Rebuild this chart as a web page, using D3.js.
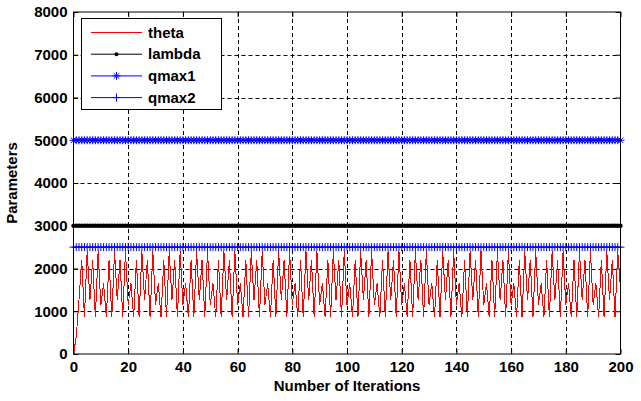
<!DOCTYPE html>
<html><head><meta charset="utf-8">
<script src="https://cdn.jsdelivr.net/npm/d3@7"></script>
<style>body{margin:0;background:#fff}svg{display:block}text{font-family:"Liberation Sans",Arial,sans-serif;font-weight:bold;fill:#000}</style>
</head><body><svg id="c" width="641" height="401"></svg>
<script>
const xTicks = [0,20,40,60,80,100,120,140,160,180,200];
const yTicks = [0,1000,2000,3000,4000,5000,6000,7000,8000];
const seriesNames = ["theta","lambda","qmax1","qmax2"];
const lambdaValue = 3000;
const qmax1Value = 5000;
const qmax2Value = 2500;
const theta = [
0,400,1260,2200,
860,2400,1260,2200,860,2400,1150,1650,860,2200,
860,2400,1260,2200,860,2400,1150,1650,860,2200,
860,2400,1260,2200,860,2400,1150,1650,860,2200,
860,2400,1260,2200,860,2400,1150,1650,860,2200,
860,2400,1260,2200,860,2400,1150,1650,860,2200,
860,2400,1260,2200,860,2400,1150,1650,860,2200,
860,2400,1260,2200,860,2400,1150,1650,860,2200,
860,2400,1260,2200,860,2400,1150,1650,860,2200,
860,2400,1260,2200,860,2400,1150,1650,860,2200,
860,2400,1260,2200,860,2400,1150,1650,860,2200,
860,2400,1260,2200,860,2400,1150,1650,860,2200,
860,2400,1260,2200,860,2400,1150,1650,860,2200,
860,2400,1260,2200,860,2400,1150,1650,860,2200,
860,2400,1260,2200,860,2400,1150,1650,860,2200,
860,2400,1260,2200,860,2400,1150,1650,860,2200,
860,2400,1260,2200,860,2400,1150,1650,860,2200,
860,2400,1260,2200,860,2400,1150,1650,860,2200,
860,2400,1260,2200,860,2400,1150,1650,860,2200,
860,2400,1260,2200,860,2400,1150,1650,860,2200,
860,2400,1260,2200,860,2400,1540
];
const iterations = theta.map((d,i)=>i);
const lambda = iterations.map(()=>lambdaValue);
const qmax1 = iterations.map(()=>qmax1Value);
const qmax2 = iterations.map(()=>qmax2Value);

const L=73.5, R=620.5, T=12, B=354;
const svg = d3.select("#c");
const x = d3.scaleLinear().domain([0,200]).range([L,R]);
const y = d3.scaleLinear().domain([0,8000]).range([B,T]);
const FS = 15;

// grid
const g = svg.append("g");
g.selectAll(".gx").data(xTicks.slice(1,-1)).enter().append("line")
 .attr("x1",d=>Math.round(x(d))+0.5).attr("x2",d=>Math.round(x(d))+0.5).attr("y1",T).attr("y2",B)
 .attr("stroke","#000").attr("stroke-dasharray","4,3");
g.selectAll(".gy").data(yTicks.slice(1,-1)).enter().append("line")
 .attr("y1",d=>Math.round(y(d))+0.5).attr("y2",d=>Math.round(y(d))+0.5).attr("x1",L).attr("x2",R)
 .attr("stroke","#000").attr("stroke-dasharray","4,3");

// axes with inside ticks
const ax = d3.axisBottom(x).tickValues(xTicks).tickSize(-5).tickPadding(7).tickFormat(d3.format("d"));
const ay = d3.axisLeft(y).tickValues(yTicks).tickSize(-5).tickPadding(6).tickFormat(d3.format("d"));
const gx = svg.append("g").attr("transform",`translate(0,${B})`).call(ax);
const gy = svg.append("g").attr("transform",`translate(${L},0)`).call(ay);
const gxt = svg.append("g").attr("transform",`translate(0,${T})`).call(d3.axisTop(x).tickValues(xTicks).tickSize(-5).tickFormat(""));
const gyr = svg.append("g").attr("transform",`translate(${R},0)`).call(d3.axisRight(y).tickValues(yTicks).tickSize(-5).tickFormat(""));
[gx,gy,gxt,gyr].forEach(a=>{a.select(".domain").remove();a.selectAll("line").attr("stroke","#000");a.selectAll("text").style("font-size",FS+"px").style("font-family","Liberation Sans, Arial, sans-serif").style("font-weight","bold").attr("fill","#000");});

const lineGen = d3.line().x((d,i)=>x(iterations[i])).y(d=>y(d));
const plot = svg.append("g");
// theta
plot.append("path").attr("d",lineGen(theta)).attr("fill","none").attr("stroke","#ff0000").attr("stroke-width",1).attr("shape-rendering","crispEdges");
// lambda
plot.append("path").attr("d",lineGen(lambda)).attr("fill","none").attr("stroke","#000").attr("stroke-width",1);
plot.selectAll(".ld").data(lambda).enter().append("circle").attr("cx",(d,i)=>x(iterations[i])).attr("cy",d=>y(d)).attr("r",2.2).attr("fill","#000");
// qmax1
plot.append("path").attr("d",lineGen(qmax1)).attr("fill","none").attr("stroke","#0000ff").attr("stroke-width",1);
const star = (cx,cy,s)=>`M${cx-s},${cy}H${cx+s}M${cx},${cy-s}V${cy+s}M${cx-s*0.7},${cy-s*0.7}L${cx+s*0.7},${cy+s*0.7}M${cx-s*0.7},${cy+s*0.7}L${cx+s*0.7},${cy-s*0.7}`;
const plus = (cx,cy,s)=>`M${cx-s},${cy}H${cx+s}M${cx},${cy-s}V${cy+s}`;
plot.append("path").attr("d",qmax1.map((d,i)=>star(x(iterations[i]),y(d),4)).join("")).attr("stroke","#0000ff").attr("fill","none");
// qmax2
plot.append("path").attr("d",lineGen(qmax2)).attr("fill","none").attr("stroke","#0000ff").attr("stroke-width",1);
plot.append("path").attr("d",qmax2.map((d,i)=>plus(x(iterations[i]),y(d),4)).join("")).attr("stroke","#0000ff").attr("fill","none");

// box
svg.append("rect").attr("x",L).attr("y",T).attr("width",R-L).attr("height",B-T).attr("fill","none").attr("stroke","#000");

// labels
svg.append("text").attr("x",(L+R)/2).attr("y",391).attr("text-anchor","middle").style("font-size",FS+"px").text("Number of Iterations");
svg.append("text").attr("transform",`translate(17,${(T+B)/2}) rotate(-90)`).attr("text-anchor","middle").style("font-size",FS+"px").text("Parameters");

// legend
const lg = svg.append("g");
lg.append("rect").attr("x",81.5).attr("y",18.5).attr("width",140).attr("height",91).attr("fill","#fff").attr("stroke","#000");
const colors = ["#ff0000","#000","#0000ff","#0000ff"];
seriesNames.forEach((n,k)=>{
  const yy = 32.5 + k*21.7;
  lg.append("line").attr("x1",91).attr("x2",142).attr("y1",yy).attr("y2",yy).attr("stroke",colors[k]);
  if(k===1) lg.append("circle").attr("cx",116.5).attr("cy",yy).attr("r",2).attr("fill","#000");
  if(k===2) lg.append("path").attr("d",star(116.5,yy,4)).attr("stroke","#0000ff");
  if(k===3) lg.append("path").attr("d",plus(116.5,yy,4)).attr("stroke","#0000ff");
  lg.append("text").attr("x",148).attr("y",yy+5).style("font-size",FS+"px").text(n);
});
</script></body></html>
